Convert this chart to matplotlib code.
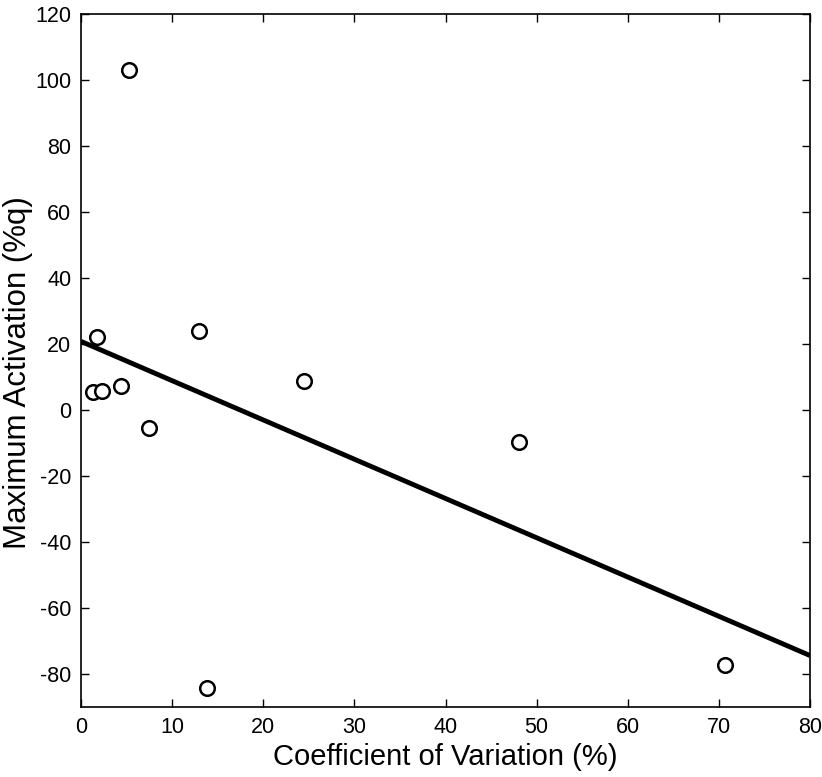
import matplotlib.pyplot as plt

plt.rcParams['font.family'] = ['Liberation Sans', 'DejaVu Sans']
plt.rcParams['axes.unicode_minus'] = False

# Data
cov = [1.35, 1.8, 2.35, 4.4, 5.25, 7.5, 13.0, 13.8, 24.5, 48.1, 70.7]
max_act = [5.5, 22.2, 5.8, 7.4, 103.0, -5.5, 23.9, -84.1, 8.9, -9.6, -77.3]

# Regression line endpoints
fit_x = [0, 80]
fit_y = [20.8, -74.4]

fig = plt.figure(figsize=(8.22, 7.77), dpi=100)
ax = fig.add_axes([0.0985, 0.090, 0.887, 0.892])

ax.plot(fit_x, fit_y, color='black', linewidth=3.5, solid_capstyle='butt')
ax.plot(cov, max_act, linestyle='none', marker='o', markersize=10.5,
        markerfacecolor='white', markeredgecolor='black', markeredgewidth=1.8)

ax.set_xlim(0, 80)
ax.set_ylim(-90, 120)
ax.set_xticks(range(0, 81, 10))
ax.set_yticks(range(-80, 121, 20))
ax.tick_params(direction='in', top=True, right=True, length=6, width=1,
               labelsize=15.5, pad=7)
for s in ax.spines.values():
    s.set_linewidth(1.2)

ax.set_xlabel('Coefficient of Variation (%)', fontsize=21)
ax.set_ylabel('Maximum Activation (%q)', fontsize=22.5)
ax.xaxis.set_label_coords(0.5, -0.052)
ax.yaxis.set_label_coords(-0.066, 0.482)

fig.savefig('out.png', dpi=100)
